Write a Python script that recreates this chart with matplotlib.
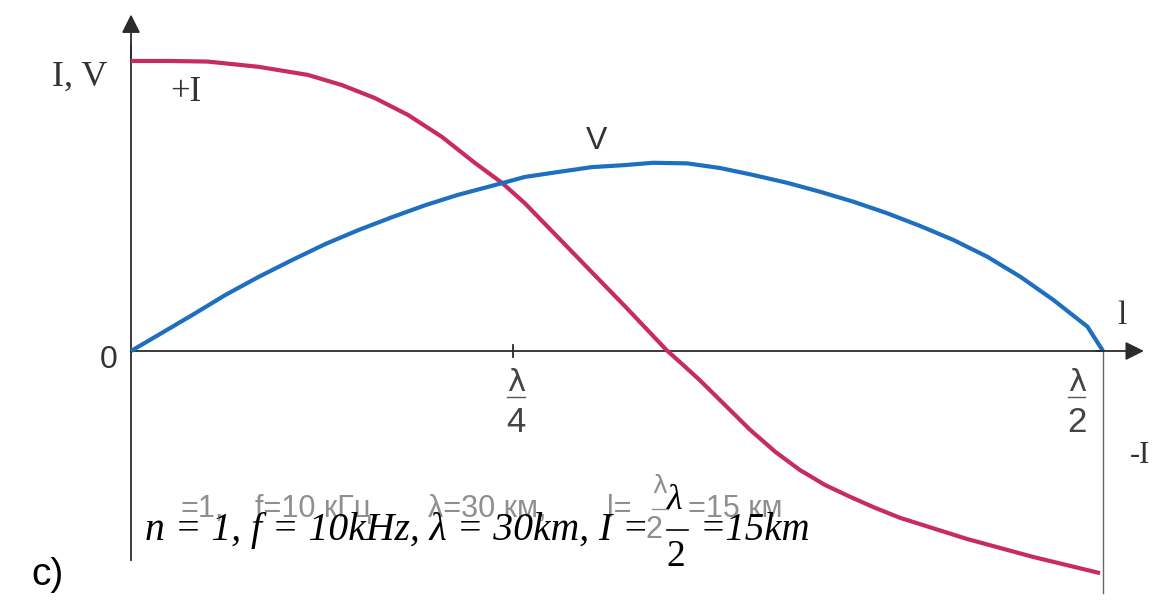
import numpy as np
import matplotlib.pyplot as plt

# positions along the line (fraction of l, 1 = lambda/2) and amplitudes
x_I = [0.0, 0.04, 0.079, 0.131, 0.182, 0.217, 0.251, 0.285, 0.320, 0.354, 0.382,
       0.405, 0.439, 0.474, 0.508, 0.551, 0.568, 0.585, 0.611, 0.637, 0.663, 0.688,
       0.714, 0.740, 0.765, 0.791, 0.860, 0.928, 0.997]
I_vals = [1.0, 1.0, 0.998, 0.980, 0.952, 0.917, 0.872, 0.814, 0.738, 0.648, 0.579,
          0.510, 0.393, 0.272, 0.155, 0.003, -0.048, -0.100, -0.186, -0.272, -0.348, -0.410,
          -0.462, -0.503, -0.540, -0.575, -0.648, -0.710, -0.766]

x_V = [0.0, 0.028, 0.063, 0.097, 0.131, 0.166, 0.200, 0.234, 0.269, 0.303, 0.336,
       0.382, 0.405, 0.439, 0.474, 0.508, 0.537, 0.572, 0.606, 0.640, 0.675, 0.709,
       0.743, 0.778, 0.812, 0.846, 0.881, 0.915, 0.949, 0.984, 1.0]
V_vals = [0.0, 0.055, 0.124, 0.193, 0.255, 0.314, 0.369, 0.417, 0.462, 0.503, 0.538,
          0.579, 0.600, 0.617, 0.634, 0.641, 0.649, 0.647, 0.631, 0.607, 0.580, 0.549,
          0.515, 0.475, 0.431, 0.383, 0.325, 0.256, 0.176, 0.084, 0.0]

tick_pos = [0.393, 1.0]
tick_den = ['4', '2']

red = '#c82a62'
blue = '#1f6fc0'
axc = '#2b2b2b'

fig = plt.figure(figsize=(11.61, 6.02), dpi=100)
ax = fig.add_axes([0, 0, 1, 1])
ax.set_xlim(-0.1348, 1.0597)
ax.set_ylim(-0.8655, 1.2103)
ax.axis('off')

# axes with arrows
ax.plot([0, 0], [-0.72, 1.05], color=axc, lw=1.3)
ax.annotate('', xy=(0, 1.17), xytext=(0, 1.0),
            arrowprops=dict(arrowstyle='-|>', color=axc, lw=1.3, mutation_scale=28))
ax.plot([0, 1.0], [0, 0], color=axc, lw=1.3)
ax.annotate('', xy=(1.045, 0), xytext=(0.99, 0),
            arrowprops=dict(arrowstyle='-|>', color=axc, lw=1.3, mutation_scale=28))
ax.plot([1.0, 1.0], [0, -0.834], color='#666666', lw=1.0)
ax.plot([tick_pos[0], tick_pos[0]], [-0.02, 0.02], color=axc, lw=1.3)

# curves
ax.plot(x_I, I_vals, color=red, lw=3, solid_capstyle='butt', solid_joinstyle='round')
ax.plot(x_V, V_vals, color=blue, lw=3, solid_capstyle='butt', solid_joinstyle='round')

serif = 'Liberation Serif'
sans = 'Liberation Sans'
ax.text(-0.0525, 0.945, 'I, V', family=serif, fontsize=26, color='#333333', ha='center', va='center')
ax.text(0.0566, 0.893, '+I', family=serif, fontsize=25, color='#333333', ha='center', va='center')
ax.text(0.479, 0.724, 'V', family=sans, fontsize=23, color='#333333', ha='center', va='center')
ax.text(-0.0226, -0.031, '0', family=sans, fontsize=23, color='#333333', ha='center', va='center')
ax.text(1.0195, 0.121, 'l', family=serif, fontsize=24, color='#333333', ha='center', va='center')
ax.text(1.038, -0.359, '-I', family=serif, fontsize=22, color='#333333', ha='center', va='center')

# lambda fractions under the x axis
for xp, den in zip(tick_pos, tick_den):
    xc = xp - 0.027 if xp == 1.0 else xp + 0.003
    ax.text(xc, -0.11, 'λ', family='DejaVu Sans', fontsize=22, color='#444444', ha='center', va='center')
    ax.plot([xc - 0.009, xc + 0.009], [-0.16, -0.16], color='#555555', lw=1.0)
    ax.text(xc, -0.245, den, family=sans, fontsize=25, color='#444444', ha='center', va='center')

# ghost of the original caption (grey)
grey = '#8f8f8f'
ghost = [(0.0504, '=1,'), (0.1276, 'f=10 кГц,'), (0.3056, 'λ=30 км,'),
         (0.4897, 'l='), (0.5730, '=15 км')]
for gx, s in ghost:
    ax.text(gx, -0.572, s, family=sans, fontsize=22, color=grey, ha='left', va='baseline')
ax.text(0.544, -0.466, 'λ', family='DejaVu Sans', fontsize=18, color=grey, ha='center', va='center')
ax.plot([0.536, 0.552], [-0.545, -0.545], color=grey, lw=1.0)
ax.text(0.538, -0.617, '2', family=sans, fontsize=22, color=grey, ha='center', va='center')

# typed caption on top (black)
ax.text(0.0144, -0.652, 'n = 1, f = 10kHz, λ = 30km, I =', family=serif, style='italic',
        fontsize=28.5, color='black', ha='left', va='baseline')
ax.text(0.5597, -0.517, 'λ', family=serif, style='italic', fontsize=26, color='black', ha='center', va='center')
ax.plot([0.5514, 0.5730], [-0.617, -0.617], color='black', lw=1.2)
ax.text(0.5607, -0.710, '2', family=serif, fontsize=27, color='black', ha='center', va='center')
ax.text(0.5854, -0.652, '=15km', family=serif, style='italic', fontsize=28, color='black',
        ha='left', va='baseline')

ax.text(-0.0855, -0.772, 'c)', family=sans, fontsize=28, color='black', ha='center', va='center')

plt.savefig('out.png', dpi=100)
